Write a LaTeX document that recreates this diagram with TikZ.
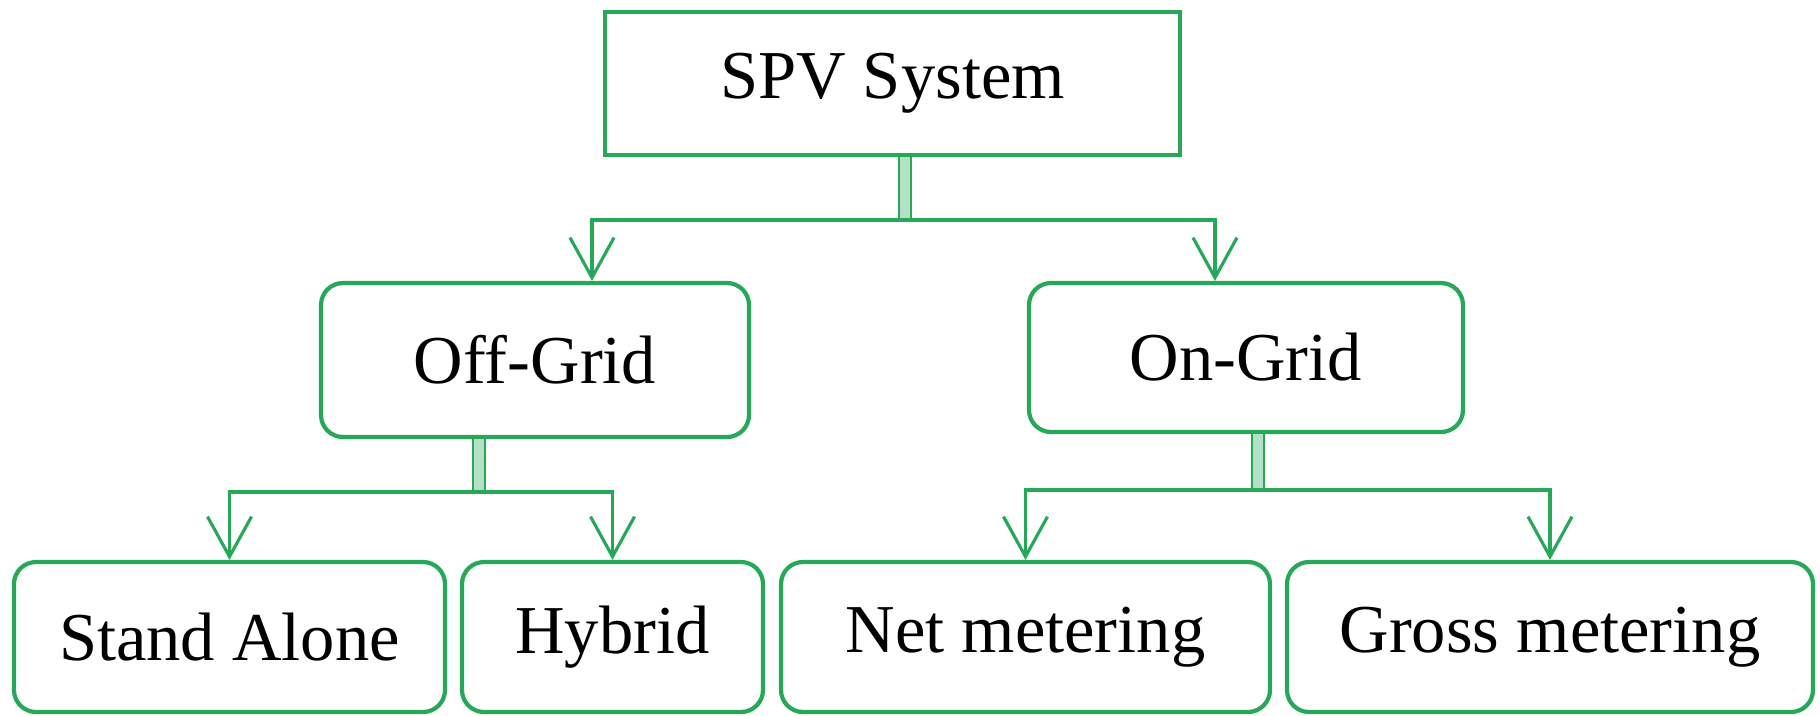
\documentclass[tikz,border=0pt]{standalone}
\usepackage{fontspec}
\setmainfont{Liberation Serif}
\usetikzlibrary{arrows.meta}
\definecolor{spvgreen}{RGB}{38,168,88}

\begin{document}
\begin{tikzpicture}[
	box/.style={
		draw=spvgreen, line width=1.2pt, inner sep=0pt,
		minimum height=1.5cm, font=\fontsize{19.5}{22}\selectfont
	},
	rbox/.style={
		box, rounded corners=2.2mm
	},
	link/.style={
		draw=spvgreen, line width=0.9pt,
		-{Straight Barb[length=4mm,width=4.4mm]}
	},
	dbl/.style={
		draw=spvgreen, line width=0.8pt,
		double=spvgreen!35, double distance=2.6pt
	}
]
\useasboundingbox (0,0) rectangle (18.2,-7.15);

% top level
\node[box, minimum width=5.75cm, minimum height=1.43cm] (spv) at (8.925,-0.835) {SPV System};

% second level
\node[rbox, minimum width=4.28cm, minimum height=1.54cm] (off) at (5.35,-3.60) {Off-Grid};
\node[rbox, minimum width=4.34cm, minimum height=1.49cm] (on) at (12.46,-3.575) {On-Grid};

% third level
\node[rbox, minimum width=4.31cm] (stand) at (2.295,-6.37) {Stand Alone};
\node[rbox, minimum width=3.01cm] (hyb) at (6.125,-6.37) {Hybrid};
\node[rbox, minimum width=4.89cm] (net) at (10.255,-6.37) {Net metering};
\node[rbox, minimum width=5.26cm] (gross) at (15.50,-6.37) {Gross metering};

% branch points
\coordinate (j0) at (9.05,-2.20);
\coordinate (j1) at (4.79,-4.92);
\coordinate (j2) at (12.58,-4.90);

\draw[dbl] (spv.south -| j0)--(j0);
\draw[dbl] (off.south -| j1)--(j1);
\draw[dbl] (on.south -| j2)--(j2);

\draw[link] (j0) -| ([xshift=5.7mm]off.north);
\draw[link] (j0) -| ([xshift=-3.1mm]on.north);
\draw[link] (j1) -| (stand.north);
\draw[link] (j1) -| (hyb.north);
\draw[link] (j2) -| (net.north);
\draw[link] (j2) -| (gross.north);
\end{tikzpicture}
\end{document}
